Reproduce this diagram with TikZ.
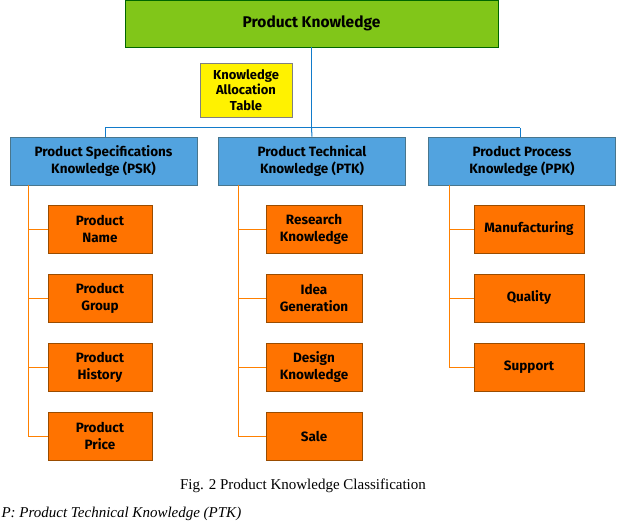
\documentclass[tikz,border=0pt]{standalone}
\usepackage{fontspec}
\newfontfamily\boxfont{Fira Sans}
\setmainfont{Liberation Serif}
\begin{document}
\begin{tikzpicture}[x=1pt,y=-1pt,
  yelbox/.style={draw=gray,fill=yellow,minimum width=92pt,minimum height=54pt,font=\boxfont\fontsize{13}{15.5}\selectfont\bfseries,align=center,inner sep=1pt},
  bluebox/.style={draw=cyan!50!black,line width=0.8pt,fill=cyan!70!blue!70,minimum width=187pt,minimum height=48pt,font=\boxfont\fontsize{13.5}{17}\selectfont\bfseries,align=center,inner sep=1pt},
  orbox/.style={draw=orange!60!black,line width=0.8pt,fill=orange!90!red,minimum height=48pt,font=\boxfont\fontsize{13.5}{17}\selectfont\bfseries,align=center,inner sep=1pt},
  conn/.style={draw=cyan!60!blue,line width=1pt},
  oconn/.style={draw=orange,line width=1pt}]
\useasboundingbox (0,0) rectangle (640,524);
\clip (0,0) rectangle (640,524);
\node[draw=green!40!black,line width=0.8pt,fill=green!55!black!55!yellow!90,minimum width=373pt,minimum height=47pt,font=\boxfont\fontsize{15.5}{17}\selectfont\bfseries] (pk) at (311.5,23.5) {Product Knowledge};
\node[yelbox] (kat) at (246,90) {Knowledge\\Allocation\\Table};
\coordinate (hj) at (311.5,128);
\coordinate (hl) at (105,128);
\coordinate (hr) at (520,128);
\node[bluebox] (psk) at (103.5,161) {Product Specifications\\Knowledge (PSK)};
\node[bluebox] (ptk) at (312,161) {Product Technical\\Knowledge (PTK)};
\node[bluebox] (ppk) at (522,161) {Product Process\\Knowledge (PPK)};
\draw[conn] (pk.south) -- (hj);
\draw[conn] (hl) -- (hr);
\draw[conn] (hl) -- (psk.north -| hl);
\draw[conn] (hj) -- (ptk.north);
\draw[conn] (hr) -- (ppk.north -| hr);
\foreach \n/\t/\y in {a/{Product\\Name}/229,b/{Product\\Group}/298,c/{Product\\History}/367,d/{Product\\Price}/436}{
  \node[orbox,minimum width=104pt] (s\n) at (100,\y) {\t};
  \coordinate (sl\n) at (28,\y);
  \draw[oconn] (sl\n) -- (s\n.west);
}
\coordinate (s0) at (28,185);
\draw[oconn] (s0) -- (sld);
\foreach \n/\t/\y in {a/{Research\\Knowledge}/229,b/{Idea\\Generation}/298,c/{Design\\Knowledge}/367,d/{Sale}/436}{
  \node[orbox,minimum width=96pt] (t\n) at (314,\y) {\t};
  \coordinate (tl\n) at (238,\y);
  \draw[oconn] (tl\n) -- (t\n.west);
}
\coordinate (t0) at (238,185);
\draw[oconn] (t0) -- (tld);
\foreach \n/\t/\y in {a/{Manufacturing}/229,b/{Quality}/298,c/{Support}/367}{
  \node[orbox,minimum width=110pt] (p\n) at (529,\y) {\t};
  \coordinate (pl\n) at (449,\y);
  \draw[oconn] (pl\n) -- (p\n.west);
}
\coordinate (p0) at (449,185);
\draw[oconn] (p0) -- (plc);
\node[font=\fontsize{15}{16}\selectfont] (cap) at (303,486) {Fig. 2 Product Knowledge Classification};
\node[font=\fontsize{15}{16}\selectfont\itshape,anchor=west] (bt) at (-2,514) {P: Product Technical Knowledge (PTK)};
\end{tikzpicture}
\end{document}
